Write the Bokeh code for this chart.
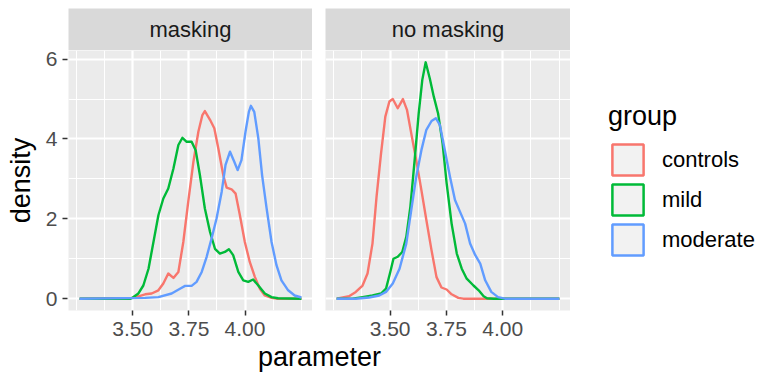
from bokeh.plotting import figure
from bokeh.models import (Range1d, FixedTicker, NumeralTickFormatter, Label,
                          Legend, LegendItem)
from bokeh.layouts import row, column
from bokeh.embed import file_html
from bokeh.resources import INLINE

# ---------------- data ----------------
facets = ["masking", "no masking"]
groups = ["controls", "mild", "moderate"]
colors = ["#F8766D", "#00BA38", "#619CFF"]
x_ticks = [3.50, 3.75, 4.00]
x_minor = [3.25, 3.375, 3.625, 3.875, 4.125, 4.25]
y_ticks = [0, 2, 4, 6]
y_minor = [1, 3, 5]

masking_controls_x = [3.263, 3.496, 3.525, 3.555, 3.584, 3.614, 3.636, 3.658, 3.681, 3.703, 3.725, 3.747, 3.770, 3.792, 3.810, 3.821, 3.844, 3.863, 3.881, 3.903, 3.918, 3.940, 3.958, 3.977, 3.999, 4.021, 4.044, 4.066, 4.088, 4.118, 4.140, 4.251]
masking_controls_y = [0, 0.02, 0.06, 0.11, 0.13, 0.21, 0.38, 0.63, 0.52, 0.67, 1.42, 2.43, 3.43, 4.18, 4.60, 4.70, 4.48, 4.27, 3.76, 3.09, 2.78, 2.74, 2.63, 2.09, 1.42, 0.92, 0.54, 0.25, 0.08, 0.02, 0, 0]

masking_mild_x = [3.263, 3.490, 3.503, 3.525, 3.547, 3.570, 3.592, 3.614, 3.636, 3.658, 3.681, 3.703, 3.721, 3.740, 3.762, 3.780, 3.799, 3.821, 3.844, 3.866, 3.888, 3.910, 3.928, 3.947, 3.970, 3.992, 4.014, 4.036, 4.059, 4.088, 4.118, 4.147, 4.251]
masking_mild_y = [0, 0, 0.04, 0.13, 0.33, 0.75, 1.42, 2.09, 2.51, 2.76, 3.26, 3.85, 4.03, 3.93, 3.93, 3.72, 3.09, 2.26, 1.67, 1.25, 1.13, 1.17, 1.24, 1.09, 0.67, 0.46, 0.42, 0.48, 0.33, 0.13, 0.04, 0.01, 0]

masking_moderate_x = [3.263, 3.555, 3.614, 3.673, 3.710, 3.733, 3.762, 3.784, 3.807, 3.829, 3.851, 3.873, 3.896, 3.913, 3.933, 3.952, 3.967, 3.984, 4.002, 4.017, 4.026, 4.041, 4.059, 4.076, 4.096, 4.118, 4.140, 4.162, 4.192, 4.221, 4.251]
masking_moderate_y = [0, 0.02, 0.04, 0.13, 0.25, 0.32, 0.32, 0.42, 0.67, 1.05, 1.51, 2.01, 2.68, 3.35, 3.68, 3.43, 3.22, 3.47, 4.18, 4.68, 4.83, 4.68, 4.02, 3.09, 2.26, 1.42, 0.84, 0.46, 0.21, 0.08, 0.03]

nomask_controls_x = [3.263, 3.318, 3.348, 3.378, 3.400, 3.422, 3.440, 3.460, 3.479, 3.497, 3.512, 3.534, 3.557, 3.575, 3.594, 3.616, 3.639, 3.661, 3.684, 3.706, 3.728, 3.751, 3.773, 3.803, 3.825, 4.251]
nomask_controls_y = [0, 0.06, 0.17, 0.33, 0.63, 1.38, 2.55, 3.64, 4.56, 4.94, 5.00, 4.77, 5.00, 4.73, 4.14, 3.47, 2.72, 1.97, 1.21, 0.54, 0.28, 0.23, 0.11, 0.02, 0, 0]

nomask_mild_x = [3.263, 3.333, 3.378, 3.422, 3.460, 3.482, 3.501, 3.515, 3.534, 3.554, 3.572, 3.590, 3.609, 3.627, 3.643, 3.658, 3.676, 3.694, 3.713, 3.733, 3.751, 3.773, 3.796, 3.818, 3.840, 3.870, 3.893, 3.915, 3.930, 3.960, 4.251]
nomask_mild_y = [0, 0, 0.04, 0.08, 0.13, 0.25, 0.67, 1.00, 1.05, 1.17, 1.55, 2.30, 3.47, 4.64, 5.48, 5.92, 5.52, 5.06, 4.64, 3.89, 2.89, 1.88, 1.13, 0.75, 0.50, 0.33, 0.21, 0.06, 0.01, 0, 0]

nomask_moderate_x = [3.263, 3.348, 3.407, 3.452, 3.482, 3.512, 3.542, 3.572, 3.594, 3.616, 3.639, 3.661, 3.684, 3.703, 3.721, 3.743, 3.766, 3.788, 3.810, 3.833, 3.855, 3.878, 3.900, 3.922, 3.949, 3.979, 4.010, 4.251]
nomask_moderate_y = [0, 0, 0.03, 0.08, 0.17, 0.38, 0.75, 1.38, 2.22, 3.05, 3.72, 4.23, 4.45, 4.52, 4.35, 3.72, 3.05, 2.47, 2.18, 1.88, 1.38, 1.09, 0.88, 0.46, 0.17, 0.04, 0, 0]

series = {
    "masking": [(masking_controls_x, masking_controls_y),
                (masking_mild_x, masking_mild_y),
                (masking_moderate_x, masking_moderate_y)],
    "no masking": [(nomask_controls_x, nomask_controls_y),
                   (nomask_mild_x, nomask_mild_y),
                   (nomask_moderate_x, nomask_moderate_y)],
}

# ---------------- scales (ggplot-style 5% expansion) ----------------
all_x = [v for f in facets for xs, _ in series[f] for v in xs]
all_y = [v for f in facets for _, ys in series[f] for v in ys]
xpad = 0.05 * (max(all_x) - min(all_x))
ypad = 0.05 * (max(all_y) - min(all_y))
xr = Range1d(min(all_x) - xpad, max(all_x) + xpad)
yr = Range1d(min(all_y) - ypad, max(all_y) + ypad)

FONT = "Liberation Sans"
PANEL_BG = "#EBEBEB"
STRIP_BG = "#D9D9D9"
FW_L, FW_R, FH = 244, 245, 260
YAX_W, GAP, BOTTOM_B, STRIP_H, TOP_B = 68, 13, 33, 42, 8
LINE_W = 2.4


def style_axis(ax):
    ax.axis_line_color = None
    ax.major_tick_line_color = "#333333"
    ax.major_tick_line_width = 1.5
    ax.major_tick_in = 0
    ax.major_tick_out = 5
    ax.minor_tick_line_color = None
    ax.major_label_text_font = FONT
    ax.major_label_text_font_size = "21px"
    ax.major_label_text_color = "#4D4D4D"
    ax.major_label_standoff = 6


def make_panel(facet, fw, left_border):
    p = figure(frame_width=fw, frame_height=FH, x_range=xr, y_range=yr,
               output_backend="svg", toolbar_location=None,
               y_axis_location=None,
               min_border_left=left_border, min_border_right=0,
               min_border_top=0, min_border_bottom=BOTTOM_B,
               background_fill_color=PANEL_BG, border_fill_color="white",
               outline_line_color=None)
    p.xgrid.ticker = FixedTicker(ticks=x_ticks, minor_ticks=x_minor)
    p.ygrid.ticker = FixedTicker(ticks=y_ticks, minor_ticks=y_minor)
    for g in (p.xgrid, p.ygrid):
        g.grid_line_color = "white"
        g.grid_line_width = 2.2
        g.minor_grid_line_color = "white"
        g.minor_grid_line_width = 1.1
    xa = p.xaxis[0]
    style_axis(xa)
    xa.ticker = FixedTicker(ticks=x_ticks, minor_ticks=x_minor)
    xa.formatter = NumeralTickFormatter(format="0.00")
    for (xs, ys), c in zip(series[facet], colors):
        p.line(xs, ys, line_color=c, line_width=LINE_W, line_join="round")
    return p


def make_strip(facet, fw, left_border):
    s = figure(frame_width=fw, frame_height=STRIP_H,
               x_range=Range1d(0, 1), y_range=Range1d(0, 1),
               x_axis_location=None, y_axis_location=None,
               output_backend="svg", toolbar_location=None,
               min_border_left=left_border, min_border_right=0,
               min_border_top=TOP_B, min_border_bottom=0,
               background_fill_color=STRIP_BG, border_fill_color="white",
               outline_line_color=None)
    s.grid.visible = False
    s.add_layout(Label(x=0.5, y=0.5, text=facet, text_align="center",
                       text_baseline="middle", text_font=FONT,
                       text_font_size="22px", text_color="#1A1A1A"))
    return s


# y axis in its own narrow figure so its top label is never clipped
ya_fig = figure(frame_width=1, frame_height=FH, x_range=Range1d(0, 1),
                y_range=yr, x_axis_location=None, y_axis_location="left",
                output_backend="svg", toolbar_location=None,
                min_border_left=YAX_W - 1, min_border_right=0,
                min_border_top=TOP_B + STRIP_H, min_border_bottom=BOTTOM_B,
                background_fill_color="white", border_fill_color="white",
                outline_line_color=None)
ya_fig.grid.visible = False
ya = ya_fig.yaxis[0]
style_axis(ya)
ya.ticker = FixedTicker(ticks=y_ticks, minor_ticks=y_minor)
ya.formatter = NumeralTickFormatter(format="0")
ya.major_label_standoff = 5
ya.axis_label = "density"
ya.axis_label_text_font = FONT
ya.axis_label_text_font_size = "27px"
ya.axis_label_text_font_style = "normal"
ya.axis_label_text_color = "black"
ya.axis_label_standoff = 7

pL = make_panel(facets[0], FW_L, 0)
pR = make_panel(facets[1], FW_R, GAP)
sL = make_strip(facets[0], FW_L, 0)
sR = make_strip(facets[1], FW_R, GAP)

# ---------------- legend ----------------
LG_W = 186
lg = figure(frame_width=LG_W, frame_height=TOP_B + STRIP_H + FH,
            x_range=Range1d(0, 1), y_range=Range1d(0, 1),
            x_axis_location=None, y_axis_location=None,
            output_backend="svg", toolbar_location=None,
            min_border=0, outline_line_color=None,
            background_fill_color="white", border_fill_color="white")
lg.grid.visible = False
nan = float("nan")
items = []
for g, c in zip(groups, colors):
    r = lg.quad(left=[nan], right=[nan], top=[nan], bottom=[nan],
                fill_color="#F2F2F2", line_color=c, line_width=2.5)
    items.append(LegendItem(label=g, renderers=[r]))
legend = Legend(items=items, location=(38, 51), title="group",
                title_text_font=FONT, title_text_font_size="27px",
                title_text_color="black", title_text_font_style="normal",
                title_standoff=8,
                label_text_font=FONT, label_text_font_size="22px",
                label_text_color="black",
                glyph_width=39, glyph_height=39, spacing=1,
                label_standoff=15, padding=0, margin=0,
                border_line_color=None, background_fill_alpha=0)
lg.add_layout(legend)

# ---------------- shared x-axis title ----------------
TOTAL_W = YAX_W + FW_L + GAP + FW_R + LG_W
XL_H = 378 - (TOP_B + STRIP_H + FH + BOTTOM_B) - 2
xl = figure(frame_width=TOTAL_W, frame_height=XL_H,
            x_range=Range1d(0, TOTAL_W), y_range=Range1d(0, XL_H),
            x_axis_location=None, y_axis_location=None,
            output_backend="svg", toolbar_location=None,
            min_border=0, outline_line_color=None,
            background_fill_color="white", border_fill_color="white")
xl.grid.visible = False
center_x = (YAX_W + (YAX_W + FW_L + GAP + FW_R)) / 2
xl.add_layout(Label(x=center_x, y=20, text="parameter", text_align="center",
                    text_baseline="alphabetic", text_font=FONT,
                    text_font_size="27px", text_color="black"))

layout = column(row(column(ya_fig), column(sL, pL), column(sR, pR),
                    column(lg)), xl)

open("out.html", "w").write(file_html(layout, INLINE))
